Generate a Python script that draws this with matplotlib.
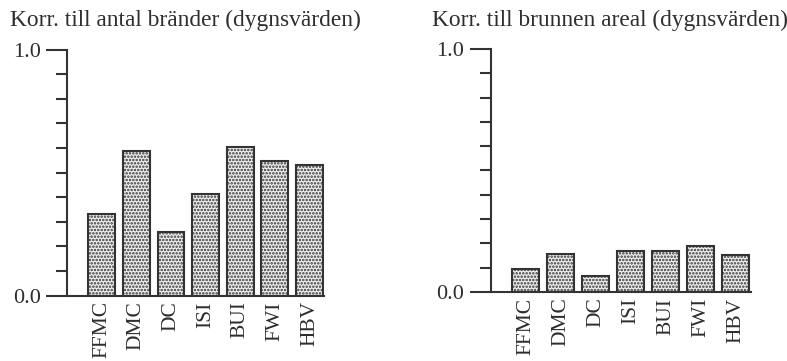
import matplotlib.pyplot as plt
from matplotlib.ticker import MultipleLocator

# index-namn och korrelationer
index_namn = ['FFMC', 'DMC', 'DC', 'ISI', 'BUI', 'FWI', 'HBV']
korr_brander = [0.331, 0.587, 0.258, 0.415, 0.606, 0.548, 0.530]
korr_areal = [0.095, 0.156, 0.065, 0.167, 0.169, 0.189, 0.152]

titlar = ['Korr. till antal bränder (dygnsvärden)',
          'Korr. till brunnen areal (dygnsvärden)']

plt.rcParams['font.family'] = ['Liberation Serif', 'DejaVu Serif']
plt.rcParams['hatch.color'] = '#555555'
plt.rcParams['hatch.linewidth'] = 1.2
textfarg = '#2e2e2e'

fig = plt.figure(figsize=(7.87, 3.61), dpi=100)
W, H = 787, 361
# axlar i pixlar: vänster, underkant, bredd, höjd
rutor = [(67, 65.3, 257, 246), (490.5, 69, 260, 243)]
titel_x = [10, 432]

x = range(1, len(index_namn) + 1)
for ruta, titel, tx, varden in zip(rutor, titlar, titel_x, [korr_brander, korr_areal]):
    ax = fig.add_axes([ruta[0] / W, ruta[1] / H, ruta[2] / W, ruta[3] / H])
    ax.bar(x, varden, width=0.77, facecolor='#eeeeee', edgecolor='#333333',
           linewidth=1.5, hatch='.....')
    ax.set_xlim(0, 7.42)
    ax.set_ylim(0, 1.0)
    ax.spines['top'].set_visible(False)
    ax.spines['right'].set_visible(False)
    for s in ('left', 'bottom'):
        ax.spines[s].set_linewidth(1.5)
        ax.spines[s].set_color('#333333')
    ax.set_yticks([0.0, 1.0])
    ax.set_yticklabels(['0.0', '1.0'])
    ax.yaxis.set_minor_locator(MultipleLocator(0.1))
    ax.tick_params(axis='y', which='major', length=15, width=1.5, color='#333333',
                   labelsize=16, labelcolor=textfarg, pad=4)
    ax.tick_params(axis='y', which='minor', length=8, width=1.5, color='#333333')
    ax.set_xticks(list(x))
    ax.set_xticklabels(index_namn, rotation=90, fontsize=15.5, color=textfarg)
    ax.tick_params(axis='x', length=0, pad=4)
    fig.text(tx / W, 1 - 26 / H, titel, fontsize=16.8, color=textfarg,
             ha='left', va='baseline')

fig.savefig('out.png', dpi=100)
